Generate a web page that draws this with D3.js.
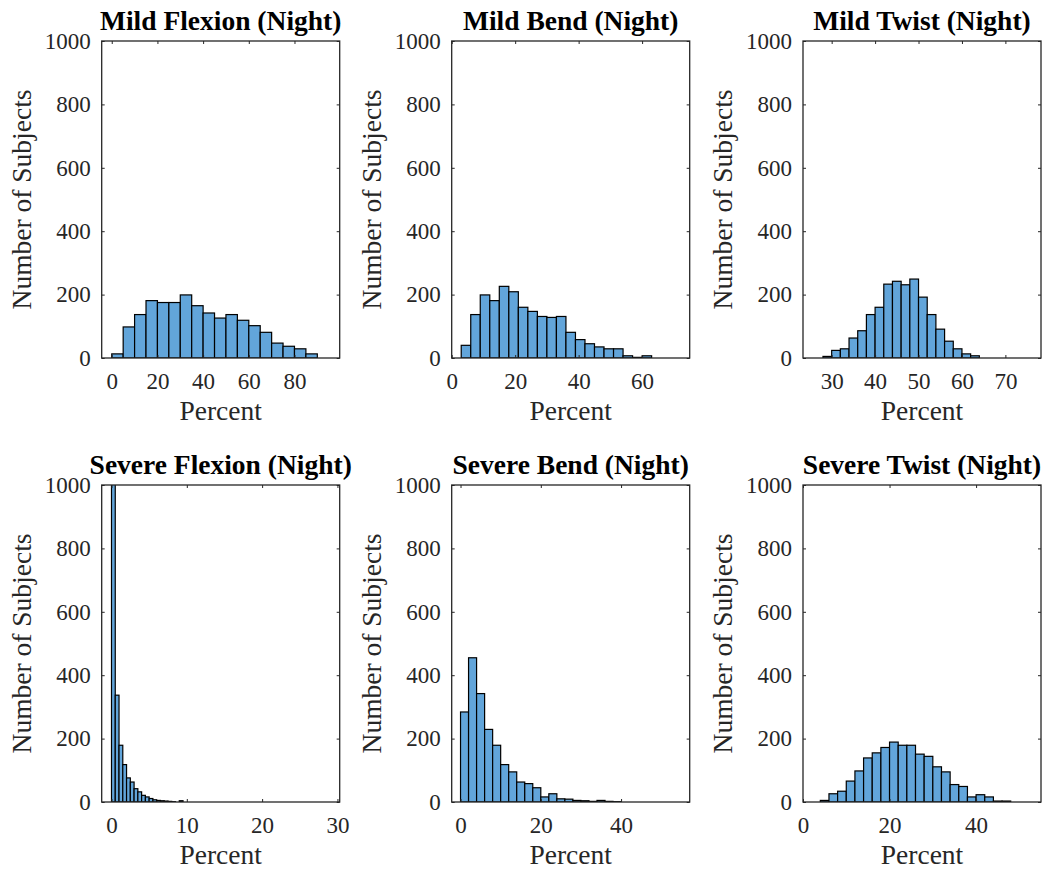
<!DOCTYPE html>
<html>
<head>
<meta charset="utf-8">
<script src="https://cdn.jsdelivr.net/npm/d3@7"></script>
<style>
  body { margin: 0; background: #fff; }
  svg { display: block; }
</style>
</head>
<body>
<div id="chart"></div>
<script>
// panel titles, in reading order
const titles = [
    "Mild Flexion (Night)", "Mild Bend (Night)", "Mild Twist (Night)",
    "Severe Flexion (Night)", "Severe Bend (Night)", "Severe Twist (Night)"
];

// histogram counts per bin
const mildFlexion = [13, 98, 137, 181, 175, 175, 199, 165, 142, 126, 137, 119, 102, 81, 47, 37, 29, 13];
const mildBend = [40, 137, 199, 181, 226, 209, 160, 147, 131, 128, 131, 81, 58, 45, 35, 29, 29, 7, 2, 7];
const mildTwist = [5, 24, 29, 63, 86, 137, 160, 233, 242, 231, 249, 192, 137, 91, 53, 29, 13, 7];
const severeFlexion = [1500, 337, 179, 118, 76, 63, 42, 32, 21, 16, 11, 7, 5, 4, 3, 2, 1, 0, 4, 0];
const severeBend = [284, 455, 342, 229, 179, 118, 95, 63, 58, 45, 16, 26, 10, 9, 5, 4, 2, 5, 2, 1];
const severeTwist = [5, 26, 34, 66, 98, 139, 155, 172, 189, 179, 179, 151, 144, 111, 95, 55, 49, 16, 23, 16, 3, 3];

const counts = [mildFlexion, mildBend, mildTwist, severeFlexion, severeBend, severeTwist];
const binStarts = [0, 3, 28, 0, 0, 4];
const binWidths = [5, 3, 2, 0.5, 2, 2];

// axis limits and ticks
const xLimits = [[-4.4, 99.8], [0, 75], [23.4, 78.2], [-1.3, 30.3], [-2.2, 57.1], [0, 55]];
const xTicks = [[0, 20, 40, 60, 80], [0, 20, 40, 60], [30, 40, 50, 60, 70], [0, 10, 20, 30], [0, 20, 40], [0, 20, 40]];
const yLimits = [0, 1000];
const yTicks = [0, 200, 400, 600, 800, 1000];

const W = 1047, H = 871;
const colLeft = [101.7, 451.7, 803];
const rowTop = [41, 485];
const pw = 238, ph = 317;
const font = "'Liberation Serif', 'Times New Roman', serif";
const axisColor = "#262626";

const svg = d3.select("#chart")
    .append("svg")
    .attr("width", W)
    .attr("height", H);

const defs = svg.append("defs");

titles.forEach((title, i) => {
    const left = colLeft[i % 3], top = rowTop[Math.floor(i / 3)];
    const g = svg.append("g").attr("transform", `translate(${left}, ${top})`);

    const x = d3.scaleLinear().domain(xLimits[i]).range([0, pw]);
    const y = d3.scaleLinear().domain(yLimits).range([ph, 0]);

    defs.append("clipPath").attr("id", "clip" + i)
        .append("rect").attr("width", pw).attr("height", ph);

    const bins = counts[i].map((c, k) => ({
        x0: binStarts[i] + k * binWidths[i],
        x1: binStarts[i] + (k + 1) * binWidths[i],
        n: c
    })).filter(d => d.n > 0);

    g.append("g")
        .attr("clip-path", `url(#clip${i})`)
        .selectAll("rect")
        .data(bins)
        .enter().append("rect")
        .attr("x", d => x(d.x0))
        .attr("y", d => y(d.n))
        .attr("width", d => x(d.x1) - x(d.x0))
        .attr("height", d => y(0) - y(d.n))
        .attr("fill", "#62a5da")
        .attr("stroke", "#000")
        .attr("stroke-width", 1.2);

    // axes, ticks pointing inward like MATLAB
    const xa = g.append("g")
        .attr("transform", `translate(0, ${ph})`)
        .call(d3.axisBottom(x).tickValues(xTicks[i]).tickFormat(d3.format("d")).tickSize(-3).tickPadding(15));
    const ya = g.append("g")
        .call(d3.axisLeft(y).tickValues(yTicks).tickFormat(d3.format("d")).tickSize(-3).tickPadding(11));
    const xt = g.append("g")
        .call(d3.axisTop(x).tickValues(xTicks[i]).tickSize(-3).tickFormat(""));
    const yr = g.append("g")
        .attr("transform", `translate(${pw}, 0)`)
        .call(d3.axisRight(y).tickValues(yTicks).tickSize(-3).tickFormat(""));

    [xa, ya, xt, yr].forEach(a => {
        a.select(".domain").remove();
        a.selectAll("line").attr("stroke", axisColor);
        a.selectAll("text")
            .attr("fill", axisColor)
            .style("font-family", font)
            .style("font-size", "23px");
    });

    g.append("rect")
        .attr("width", pw)
        .attr("height", ph)
        .attr("fill", "none")
        .attr("stroke", axisColor)
        .attr("stroke-width", 1.3);

    g.append("text")
        .attr("x", pw / 2)
        .attr("y", -11)
        .attr("text-anchor", "middle")
        .style("font-family", font)
        .style("font-size", "27.5px")
        .style("font-weight", "bold")
        .attr("fill", "#000")
        .text(title);

    g.append("text")
        .attr("x", pw / 2)
        .attr("y", ph + 62)
        .attr("text-anchor", "middle")
        .style("font-family", font)
        .style("font-size", "27.5px")
        .attr("fill", axisColor)
        .text("Percent");

    g.append("text")
        .attr("transform", `translate(-71, ${ph / 2}) rotate(-90)`)
        .attr("text-anchor", "middle")
        .style("font-family", font)
        .style("font-size", "27.5px")
        .attr("fill", axisColor)
        .text("Number of Subjects");
});
</script>
</body>
</html>
